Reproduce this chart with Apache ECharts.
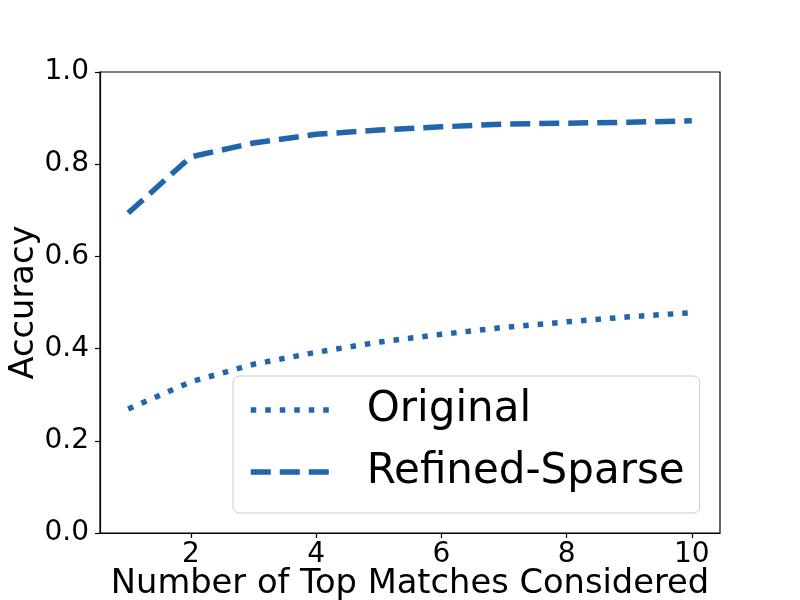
<!DOCTYPE html>
<html>
<head>
<meta charset="utf-8">
<script src="https://cdn.jsdelivr.net/npm/echarts@6/dist/echarts.min.js"></script>
<style>
  html, body { margin: 0; padding: 0; background: #fff; }
  #chart { width: 800px; height: 600px; }
</style>
</head>
<body>
<div id="chart"></div>
<script>
// 数据
var topK = [1, 2, 3, 4, 5, 6, 7, 8, 9, 10];
var original = [0.269, 0.328, 0.366, 0.392, 0.414, 0.431, 0.446, 0.458, 0.469, 0.478];
var refinedSparse = [0.694, 0.816, 0.846, 0.865, 0.874, 0.881, 0.887, 0.889, 0.891, 0.894];
var xTicks = [2, 4, 6, 8, 10];
var seriesNames = ['Original', 'Refined-Sparse'];

function pairs(ys) {
    var out = [];
    for (var i = 0; i < topK.length; i++) {
        out.push([topK[i], ys[i]]);
    }
    return out;
}

var color = '#2166ac';
var font = 'DejaVu Sans';
var dotted = [5.5, 9];
var dashed = [20, 9];

var chart = echarts.init(document.getElementById('chart'), null, { renderer: 'canvas' });

var option = {
    animation: false,
    backgroundColor: '#fff',
    grid: {
        left: 100, right: 80, top: 72, bottom: 67,
        outerBoundsMode: 'none',
        containLabel: false,
        show: true, borderColor: '#000', borderWidth: 1.2, backgroundColor: 'transparent'
    },
    legend: {
        orient: 'vertical',
        left: 233, top: 376,
        data: seriesNames,
        itemWidth: 80,
        itemHeight: 14,
        itemGap: 18,
        padding: [12, 15, 19, 15],
        backgroundColor: 'rgba(255,255,255,0.8)',
        borderColor: '#cccccc',
        borderWidth: 1,
        borderRadius: 6,
        itemStyle: { color: 'rgba(0,0,0,0)', borderWidth: 0, opacity: 0 },
        lineStyle: { width: 5.5, cap: 'butt' },
        textStyle: {
            fontFamily: font, fontSize: 42, color: '#000',
            lineHeight: 44, padding: [0, 0, 0, 31]
        }
    },
    xAxis: {
        type: 'value',
        min: 0.55, max: 10.45,
        name: 'Number of Top Matches Considered',
        nameLocation: 'middle',
        nameGap: 34,
        nameMoveOverlap: false,
        nameTextStyle: { fontFamily: font, fontSize: 33.7, color: '#000' },
        axisLine: { show: true, onZero: false, lineStyle: { color: '#000', width: 1.2 } },
        axisTick: { show: true, customValues: xTicks, length: 5, lineStyle: { color: '#000', width: 1.2 } },
        axisLabel: { customValues: xTicks, margin: 8, fontFamily: font, fontSize: 28, color: '#000' },
        splitLine: { show: false }
    },
    yAxis: {
        type: 'value',
        min: 0, max: 1, interval: 0.2,
        name: 'Accuracy',
        nameLocation: 'middle',
        nameGap: 59,
        nameMoveOverlap: false,
        nameTextStyle: { fontFamily: font, fontSize: 33.7, color: '#000' },
        axisLine: { show: true, lineStyle: { color: '#000', width: 1.2 } },
        axisTick: { show: true, length: 5, lineStyle: { color: '#000', width: 1.2 } },
        axisLabel: {
            margin: 11, fontFamily: font, fontSize: 28, color: '#000',
            formatter: function (v) { return v.toFixed(1); }
        },
        splitLine: { show: false }
    },
    series: [
        {
            name: seriesNames[0],
            type: 'line',
            data: pairs(original),
            showSymbol: false,
            symbol: 'none',
            itemStyle: { color: color },
            lineStyle: { color: color, width: 5.5, type: dotted, cap: 'butt' }
        },
        {
            name: seriesNames[1],
            type: 'line',
            data: pairs(refinedSparse),
            showSymbol: false,
            symbol: 'none',
            itemStyle: { color: color },
            lineStyle: { color: color, width: 5.5, type: dashed, cap: 'butt' }
        }
    ]
};

chart.setOption(option);
</script>
</body>
</html>
